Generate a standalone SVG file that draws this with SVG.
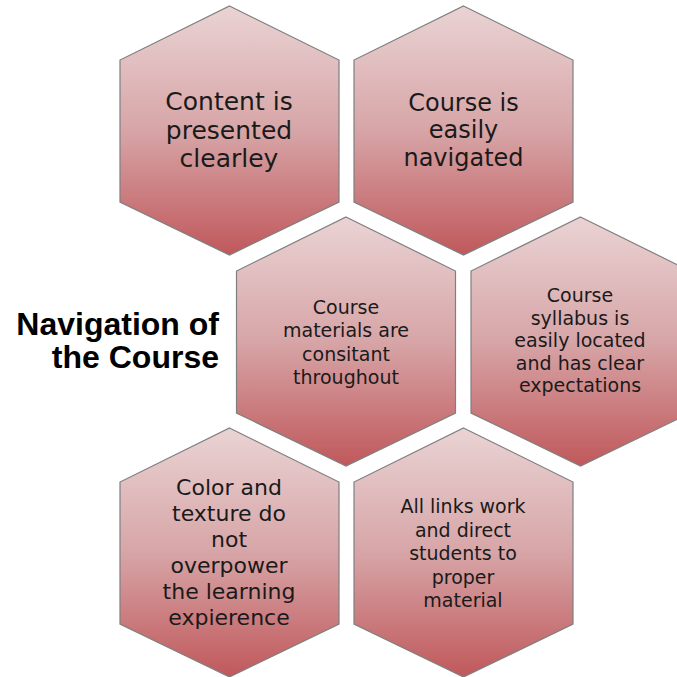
<svg xmlns="http://www.w3.org/2000/svg" width="677" height="677" viewBox="0 0 677 677">
<defs>
<linearGradient id="hexFill" x1="0" y1="0" x2="0" y2="1">
<stop offset="0" stop-color="#ead3d4"/>
<stop offset="0.5" stop-color="#d7a5a7"/>
<stop offset="1" stop-color="#c0585b"/>
</linearGradient>
<polygon id="hexShape" points="0,0 109.5,54 109.5,196 0,249 -109.5,196 -109.5,54"/>
</defs>
<style>
.hex { fill: url(#hexFill); stroke: #7f7f7f; stroke-width: 1.2; }
.lbl { font-family: "DejaVu Sans", "Liberation Sans", sans-serif; fill: #1a1a1a; text-anchor: middle; }
.title { font-family: "Liberation Sans", Arial, sans-serif; font-weight: bold; font-size: 32px; fill: #000; text-anchor: end; }
</style>
<rect width="677" height="677" fill="#ffffff"/>
<g id="connectors"></g>
<g id="title">
<text class="title" x="219" y="335">Navigation of</text>
<text class="title" x="219" y="368">the Course</text>
</g>
<g id="node1">
<use href="#hexShape" class="hex" x="229.5" y="6"/>
<text class="lbl" font-size="25" x="229" y="110">Content is</text>
<text class="lbl" font-size="25" x="229" y="139">presented</text>
<text class="lbl" font-size="25" x="229" y="167">clearley</text>
</g>
<g id="node2">
<use href="#hexShape" class="hex" x="463.5" y="6"/>
<text class="lbl" font-size="24" x="463.5" y="111">Course is</text>
<text class="lbl" font-size="24" x="463.5" y="138">easily</text>
<text class="lbl" font-size="24" x="463.5" y="166">navigated</text>
</g>
<g id="node3">
<use href="#hexShape" class="hex" x="346" y="217"/>
<text class="lbl" font-size="19" x="346" y="314">Course</text>
<text class="lbl" font-size="19" x="346" y="337">materials are</text>
<text class="lbl" font-size="19" x="346" y="361">consitant</text>
<text class="lbl" font-size="19" x="346" y="384">throughout</text>
</g>
<g id="node4">
<use href="#hexShape" class="hex" x="580.5" y="217"/>
<text class="lbl" font-size="19" x="580" y="302">Course</text>
<text class="lbl" font-size="19" x="580" y="325">syllabus is</text>
<text class="lbl" font-size="19" x="580" y="347">easily located</text>
<text class="lbl" font-size="19" x="580" y="370">and has clear</text>
<text class="lbl" font-size="19" x="580" y="392">expectations</text>
</g>
<g id="node5">
<use href="#hexShape" class="hex" x="229.5" y="428"/>
<text class="lbl" font-size="22" x="229" y="495">Color and</text>
<text class="lbl" font-size="22" x="229" y="521">texture do</text>
<text class="lbl" font-size="22" x="229" y="547">not</text>
<text class="lbl" font-size="22" x="229" y="573">overpower</text>
<text class="lbl" font-size="22" x="229" y="599">the learning</text>
<text class="lbl" font-size="22" x="229" y="625">expierence</text>
</g>
<g id="node6">
<use href="#hexShape" class="hex" x="463.5" y="428"/>
<text class="lbl" font-size="19" x="463" y="513">All links work</text>
<text class="lbl" font-size="19" x="463" y="537">and direct</text>
<text class="lbl" font-size="19" x="463" y="560">students to</text>
<text class="lbl" font-size="19" x="463" y="584">proper</text>
<text class="lbl" font-size="19" x="463" y="607">material</text>
</g>
</svg>
